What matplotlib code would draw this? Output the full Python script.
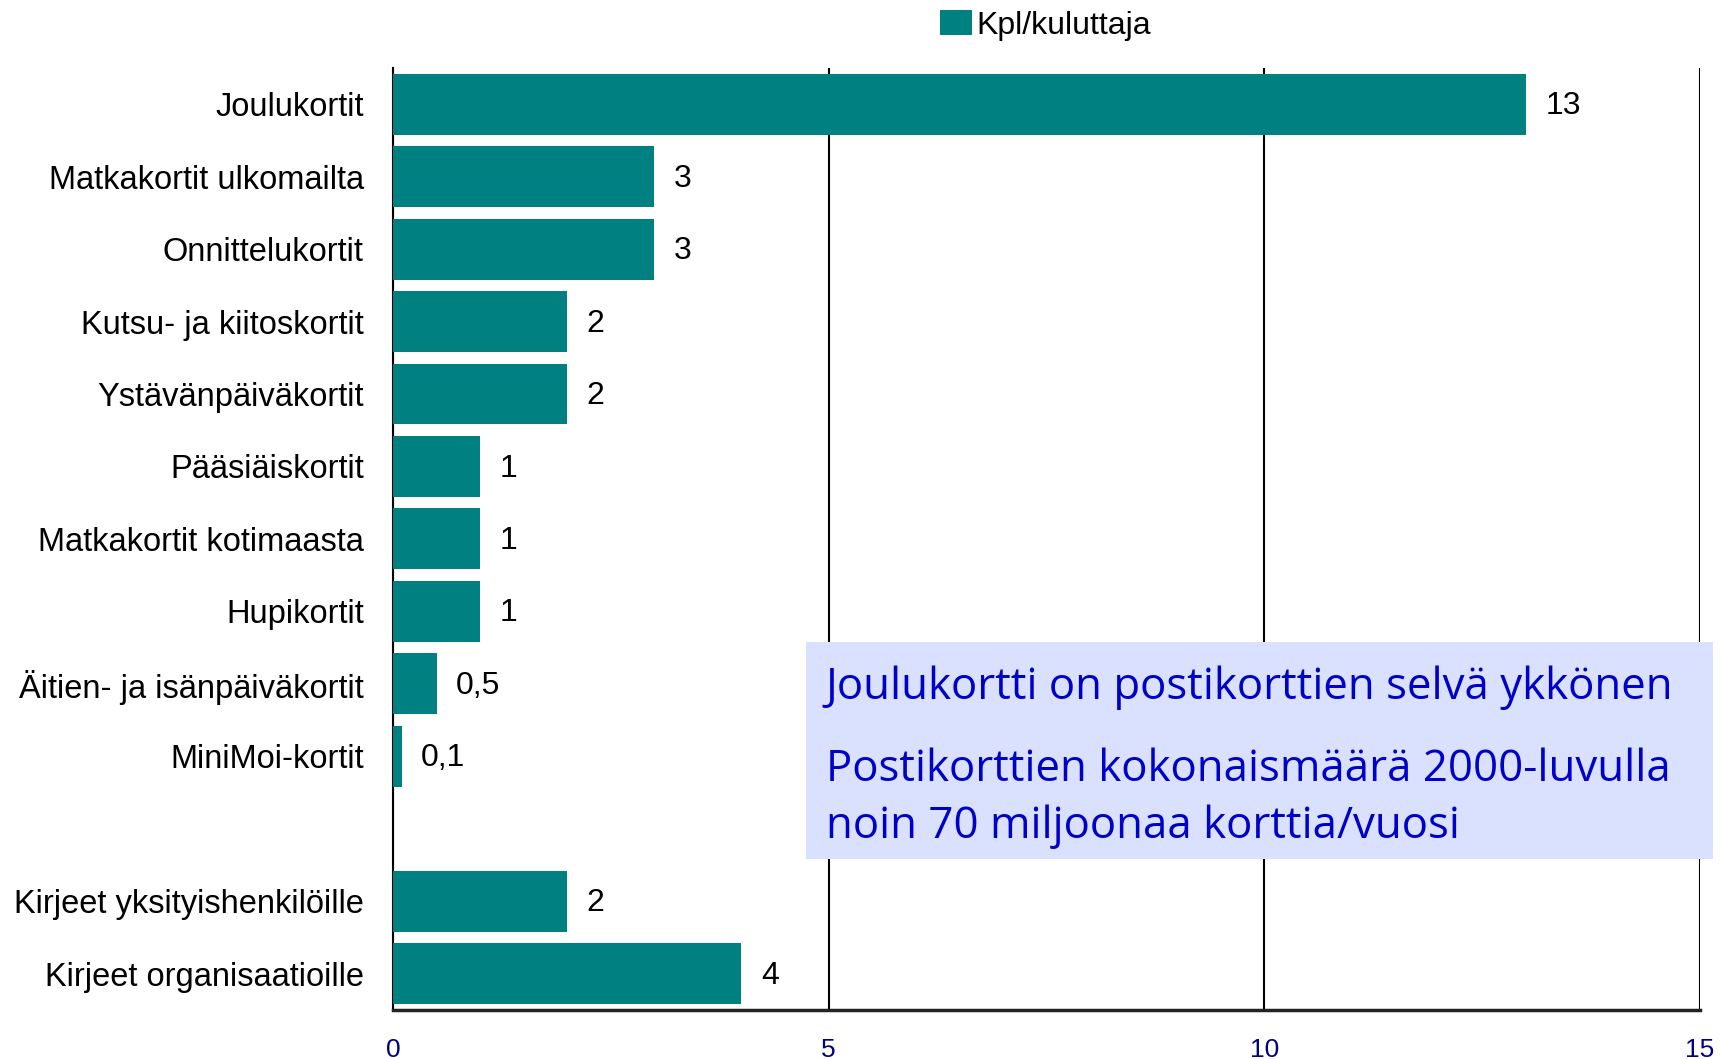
import matplotlib
matplotlib.use("Agg")
import matplotlib.pyplot as plt
from matplotlib.patches import Rectangle

categories = ["Joulukortit", "Matkakortit ulkomailta", "Onnittelukortit",
              "Kutsu- ja kiitoskortit", "Ystävänpäiväkortit", "Pääsiäiskortit",
              "Matkakortit kotimaasta", "Hupikortit", "Äitien- ja isänpäiväkortit",
              "MiniMoi-kortit", "", "Kirjeet yksityishenkilöille", "Kirjeet organisaatioille"]
values = [13, 3, 3, 2, 2, 1, 1, 1, 0.5, 0.1, None, 2, 4]
value_labels = ["13", "3", "3", "2", "2", "1", "1", "1", "0,5", "0,1", "", "2", "4"]
xticks = [0, 5, 10, 15]
series_name = "Kpl/kuluttaja"
note_lines = ["Joulukortti on postikorttien selvä ykkönen",
              "Postikorttien kokonaismäärä 2000-luvulla",
              "noin 70 miljoonaa korttia/vuosi"]

plt.rcParams['font.family'] = ['Liberation Sans', 'DejaVu Sans']

fig = plt.figure(figsize=(17.22, 10.59), dpi=100)
ax = fig.add_axes([0.2282, 0.0465, 0.7590, 0.8893])

teal = "#008080"
ypos = list(range(len(categories)))
for y, v, lab in zip(ypos, values, value_labels):
    if v is None:
        continue
    ax.barh(y, v, height=0.84, color=teal, zorder=3, label=series_name if y == 0 else None)
    ax.annotate(lab, (v, y), xytext=(14, -1.5), textcoords="offset points",
                ha="left", va="center", fontsize=23, color="black")

ax.set_xlim(0, 15)
ax.set_ylim(len(categories) - 0.5, -0.5)
ax.set_yticks(ypos)
ax.set_yticklabels(categories, fontsize=23.5)
ax.set_xticks(xticks)
ax.set_xticklabels([str(t) for t in xticks], fontsize=19, color="#000080")
ax.tick_params(axis="both", length=0)
ax.tick_params(axis="y", pad=21)
ax.tick_params(axis="x", pad=20)
for s in ["top", "right"]:
    ax.spines[s].set_visible(False)
ax.spines["left"].set_linewidth(1.5)
ax.spines["left"].set_color("black")
ax.spines["bottom"].set_linewidth(2.5)
ax.spines["bottom"].set_color("#222222")
ax.xaxis.grid(True, color="black", linewidth=1.5, zorder=1)
ax.set_axisbelow(True)

fig.legend(loc="center", bbox_to_anchor=(0.607, 0.976), frameon=False,
           fontsize=23, handlelength=1.0, handleheight=0.8, handletextpad=0.15)

# note box
box = Rectangle((0.468, 0.189), 0.527, 0.205, transform=fig.transFigure,
                facecolor="#D9E1FF", edgecolor="none", zorder=5)
fig.add_artist(box)
note_kw = dict(transform=fig.transFigure, ha="left", va="center", fontsize=31.5,
               color="#0000C8", family=["Open Sans", "DejaVu Sans"], zorder=6)
fig.text(0.4795, 1 - 688/1059, note_lines[0], **note_kw)
fig.text(0.4795, 1 - 770/1059, note_lines[1], **note_kw)
fig.text(0.4795, 1 - 827/1059, note_lines[2], **note_kw)

fig.savefig("out.png", dpi=100)
